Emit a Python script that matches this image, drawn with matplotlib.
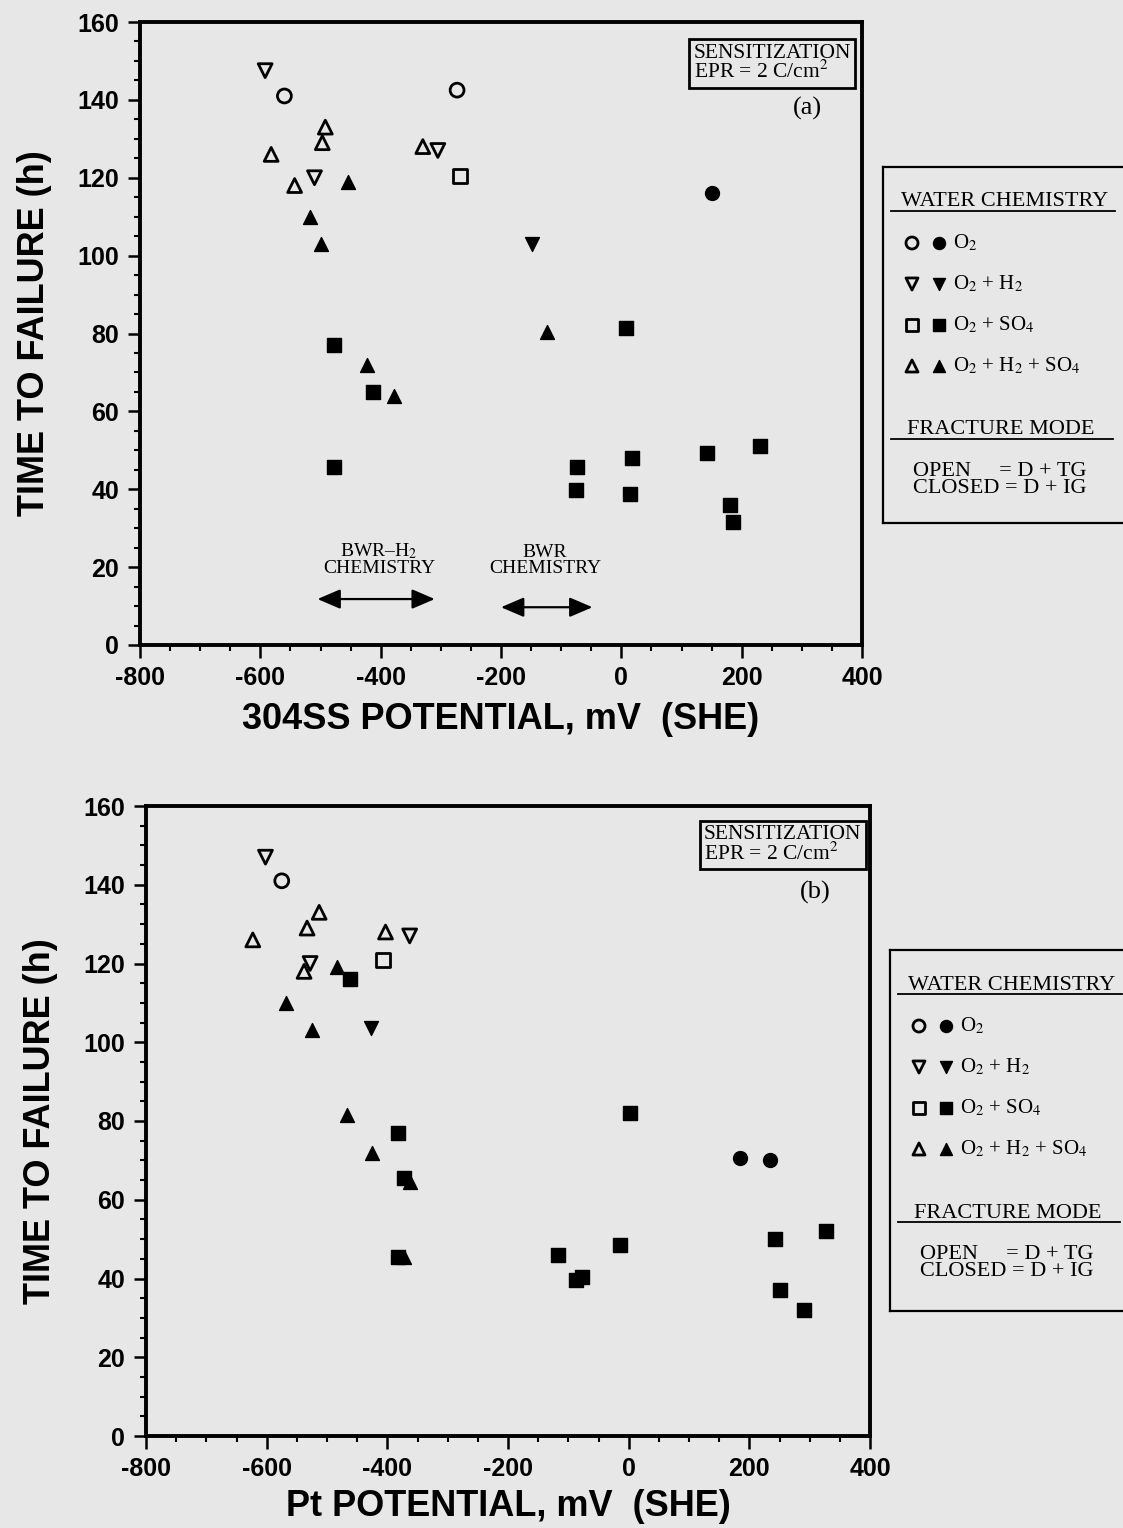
import numpy as np
import matplotlib.pyplot as plt
from matplotlib.ticker import MultipleLocator

plt.rcParams['font.family'] = ['Liberation Sans', 'DejaVu Sans']
plt.rcParams['mathtext.fontset'] = 'stix'
plt.rcParams['axes.unicode_minus'] = False

BG = '#e7e7e7'
SERIF = 'Liberation Serif'

# ---- panel (a): 304SS potential (mV SHE) vs time to failure (h) ----
a_o2_open_x, a_o2_open_y = [-560, -273], [141, 142.5]
a_o2_fill_x, a_o2_fill_y = [150], [116]
a_h2_open_x, a_h2_open_y = [-592, -510, -305], [147.5, 120, 127]
a_h2_fill_x, a_h2_fill_y = [-148], [103]
a_so4_open_x, a_so4_open_y = [-268], [120.5]
a_so4_fill_x = [8, -477, -412, -477, -73, -75, 18, 15, 143, 230, 180, 185]
a_so4_fill_y = [81.5, 77, 65, 45.8, 45.6, 39.7, 48, 38.7, 49.4, 51, 36, 31.5]
a_all_open_x = [-582, -492, -497, -543, -330]
a_all_open_y = [126, 133, 129, 118, 128]
a_all_fill_x = [-455, -517, -500, -123, -422, -378]
a_all_fill_y = [119, 110, 103, 80.5, 72, 64]

# ---- panel (b): Pt potential (mV SHE) vs time to failure (h) ----
b_o2_open_x, b_o2_open_y = [-575], [141]
b_o2_fill_x, b_o2_fill_y = [185, 235], [70.5, 70]
b_h2_open_x, b_h2_open_y = [-602, -363, -528], [147, 127, 120]
b_h2_fill_x, b_h2_fill_y = [-427], [103.5]
b_so4_open_x, b_so4_open_y = [-407], [121]
b_so4_fill_x = [-462, 3, -383, -373, -383, -117, -88, -78, -15, 242, 327, 250, 290]
b_so4_fill_y = [116, 82, 77, 65.5, 45.4, 46, 39.6, 40.4, 48.5, 50, 52, 37, 32]
b_all_open_x = [-513, -533, -623, -403, -538]
b_all_open_y = [133, 129, 126, 128, 118]
b_all_fill_x = [-483, -568, -525, -467, -425, -362, -372]
b_all_fill_y = [119, 110, 103, 81.5, 72, 64.5, 45.4]

legend_rows = [('o', r'O$_2$'), ('v', r'O$_2$ + H$_2$'),
               ('s', r'O$_2$ + SO$_4$'), ('^', r'O$_2$ + H$_2$ + SO$_4$')]

W, H = 1123, 1528
fig = plt.figure(figsize=(W / 100, H / 100), dpi=100, facecolor=BG)


def px_axes(l, t, r, b):
    return fig.add_axes([l / W, 1 - b / H, (r - l) / W, (b - t) / H])


def open_pts(ax, x, y, m):
    ax.scatter(x, y, marker=m, s=100, facecolors='none', edgecolors='black',
               linewidths=2.0, zorder=3, clip_on=False)


def fill_pts(ax, x, y, m):
    ax.scatter(x, y, marker=m, s=100, color='black', zorder=3, clip_on=False)


def setup(ax, xlabel, xpad):
    ax.set_facecolor(BG)
    ax.set_xlim(-800, 400)
    ax.set_ylim(0, 160)
    ax.xaxis.set_major_locator(MultipleLocator(200))
    ax.xaxis.set_minor_locator(MultipleLocator(50))
    ax.yaxis.set_major_locator(MultipleLocator(20))
    ax.yaxis.set_minor_locator(MultipleLocator(5))
    ax.tick_params(which='major', direction='out', length=9, width=1.8,
                   labelsize=18, pad=6)
    ax.tick_params(which='minor', direction='out', length=4, width=1.5)
    for lab in ax.get_xticklabels() + ax.get_yticklabels():
        lab.set_fontweight('bold')
    for sp in ax.spines.values():
        sp.set_linewidth(2.8)
    ax.set_xlabel(xlabel, fontsize=26, fontweight='bold', labelpad=xpad)
    ax.set_ylabel('TIME TO FAILURE (h)', fontsize=26, fontweight='bold', labelpad=18)


def sens_box(ax, tag, x0, y0, tx, ty):
    ax.text(x0, y0, 'SENSITIZATION\nEPR = 2 C/cm$^2$', transform=ax.transAxes,
            family=SERIF, fontsize=15.5, ha='right', va='top', linespacing=0.9,
            multialignment='left',
            bbox=dict(boxstyle='square,pad=0.2', fc=BG, ec='black', lw=2.0))
    ax.text(tx, ty, tag, transform=ax.transAxes, family=SERIF,
            fontsize=19, ha='center', va='center')


def legend_box(l, t, r, b):
    lax = px_axes(l, t, r, b)
    lax.set_facecolor(BG)
    lax.set_xlim(l, r)
    lax.set_ylim(b, t)
    lax.set_xticks([])
    lax.set_yticks([])
    for sp in lax.spines.values():
        sp.set_linewidth(1.6)
    lax.spines['right'].set_visible(False)
    y = t + 35
    lax.text(l + 122, y, 'WATER CHEMISTRY', family=SERIF, fontsize=16,
             ha='center', va='center')
    lax.plot([l + 8, l + 232], [y + 9, y + 9], color='black', lw=1.3)
    for i, (m, lab) in enumerate(legend_rows):
        ry = t + 76 + i * 41
        lax.scatter([l + 29], [ry], marker=m, s=75, facecolors='none',
                    edgecolors='black', linewidths=2.0)
        lax.scatter([l + 56], [ry], marker=m, s=75, color='black')
        lax.text(l + 70, ry, lab, family=SERIF, fontsize=15, va='center')
    fy = t + 263
    lax.text(l + 118, fy, 'FRACTURE MODE', family=SERIF, fontsize=16,
             ha='center', va='center')
    lax.plot([l + 8, l + 230], [fy + 9, fy + 9], color='black', lw=1.3)
    lax.text(l + 30, fy + 50, 'OPEN     = D + TG\nCLOSED = D + IG', family=SERIF,
             fontsize=16, va='center', linespacing=0.9)


def chem_arrow(ax, x0, x1, y):
    ax.annotate('', xy=(x1, y), xytext=(x0, y),
                arrowprops=dict(arrowstyle='<|-|>,head_length=1.4,head_width=0.6',
                                color='black', lw=1.6, shrinkA=0, shrinkB=0))


# ---- panel (a) ----
ax1 = px_axes(140, 22, 862, 645)
setup(ax1, '304SS POTENTIAL, mV  (SHE)', 9)
open_pts(ax1, a_o2_open_x, a_o2_open_y, 'o')
fill_pts(ax1, a_o2_fill_x, a_o2_fill_y, 'o')
open_pts(ax1, a_h2_open_x, a_h2_open_y, 'v')
fill_pts(ax1, a_h2_fill_x, a_h2_fill_y, 'v')
open_pts(ax1, a_so4_open_x, a_so4_open_y, 's')
fill_pts(ax1, a_so4_fill_x, a_so4_fill_y, 's')
open_pts(ax1, a_all_open_x, a_all_open_y, '^')
fill_pts(ax1, a_all_fill_x, a_all_fill_y, '^')
sens_box(ax1, '(a)', 0.985, 0.965, 0.925, 0.862)

ax1.text(-403, 17.5, 'BWR\u2013H$_2$\nCHEMISTRY', family=SERIF, fontsize=14,
         ha='center', va='bottom', linespacing=0.9)
chem_arrow(ax1, -505, -310, 11.8)
ax1.text(-127, 17.5, 'BWR\nCHEMISTRY', family=SERIF, fontsize=14,
         ha='center', va='bottom', linespacing=0.9)
chem_arrow(ax1, -200, -48, 9.7)

legend_box(883, 167, 1123, 523)

# ---- panel (b) ----
ax2 = px_axes(146, 806, 870, 1436)
setup(ax2, 'Pt POTENTIAL, mV  (SHE)', 6)
open_pts(ax2, b_o2_open_x, b_o2_open_y, 'o')
fill_pts(ax2, b_o2_fill_x, b_o2_fill_y, 'o')
open_pts(ax2, b_h2_open_x, b_h2_open_y, 'v')
fill_pts(ax2, b_h2_fill_x, b_h2_fill_y, 'v')
open_pts(ax2, b_so4_open_x, b_so4_open_y, 's')
fill_pts(ax2, b_so4_fill_x, b_so4_fill_y, 's')
open_pts(ax2, b_all_open_x, b_all_open_y, '^')
fill_pts(ax2, b_all_fill_x, b_all_fill_y, '^')
sens_box(ax2, '(b)', 0.988, 0.97, 0.925, 0.862)

legend_box(890, 950, 1123, 1311)

fig.savefig('out.png', dpi=100, facecolor=BG)
